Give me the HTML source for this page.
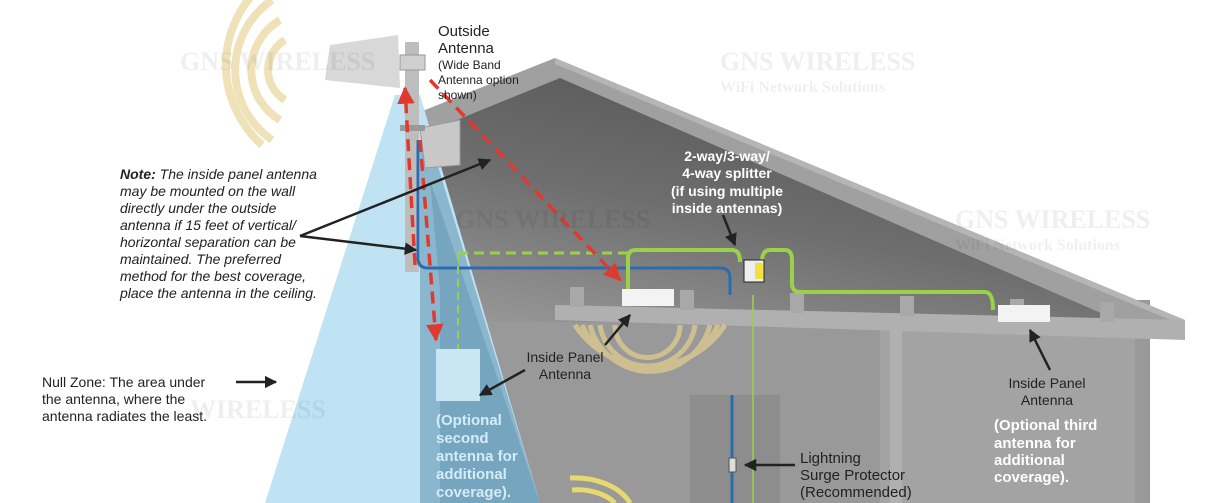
<!DOCTYPE html>
<html><head><meta charset="utf-8"><style>
html,body{margin:0;padding:0;background:#fff;}
svg{display:block;}
text{font-family:"Liberation Sans",sans-serif;}
.wm text{font-family:"Liberation Serif",serif;}
</style></head><body>
<svg width="1228" height="503" viewBox="0 0 1228 503" xmlns="http://www.w3.org/2000/svg">
<defs>
<linearGradient id="attic" x1="0" y1="1" x2="0.6" y2="0">
<stop offset="0" stop-color="#9a9a9a"/><stop offset="0.5" stop-color="#6e6e6e"/><stop offset="1" stop-color="#555"/>
</linearGradient>
<marker id="ah" viewBox="0 0 10 10" refX="9" refY="5" markerWidth="5" markerHeight="5" orient="auto"><path d="M0,0L10,5L0,10z" fill="#222"/></marker>
<marker id="rh" viewBox="0 0 10 10" refX="9" refY="5" markerWidth="5" markerHeight="5" orient="auto"><path d="M0,0L10,5L0,10z" fill="#e03a30"/></marker>
</defs>
<!-- yellow arcs outside -->
<g fill="none" stroke="#f0e2b8" stroke-width="8">
<path d="M285,40 A35,35 0 0 0 285,100"/>
<path d="M280,20 A58,58 0 0 0 280,120"/>
<path d="M272,0 A85,85 0 0 0 272,140"/>
<path d="M262,-15 A115,110 0 0 0 262,145"/>
</g>
<!-- house interior -->
<rect x="420" y="300" width="730" height="203" fill="#999"/>
<rect x="880" y="330" width="255" height="173" fill="#a3a3a3"/>
<rect x="890" y="330" width="12" height="173" fill="#b0b0b0"/>
<rect x="690" y="395" width="90" height="108" fill="#8d8d8d"/>
<!-- attic -->
<polygon points="420,125 560,75 1140,322 420,322" fill="url(#attic)"/>
<!-- roof slab -->
<polygon points="420,112 555,58 1185,320 1185,340 1140,330 560,78 420,135" fill="#a0a0a0"/>
<polygon points="555,58 1185,320 1185,326 555,64" fill="#b5b5b5"/>
<!-- ceiling beam -->
<polygon points="555,305 1185,320 1185,340 555,320" fill="#b0b0b0"/>
<g fill="#a8a8a8"><rect x="570" y="287" width="14" height="20"/><rect x="680" y="290" width="14" height="20"/><rect x="790" y="293" width="14" height="20"/><rect x="900" y="296" width="14" height="20"/><rect x="1010" y="299" width="14" height="20"/><rect x="1100" y="302" width="14" height="20"/></g>
<rect x="420" y="270" width="18" height="233" fill="#a9a9a9"/>
<!-- inside arcs -->
<g fill="none" stroke="#d8c690" stroke-width="5" opacity="0.85">
<path d="M615,325 A32,32 0 0 0 680,325"/><path d="M600,325 A48,48 0 0 0 695,325"/><path d="M590,325 A62,62 0 0 0 710,325"/><path d="M582,325 A75,75 0 0 0 718,325"/><path d="M575,325 A90,92 0 0 0 725,325"/>
</g>
<g fill="none" stroke="#e8d870" stroke-width="5"><path d="M570,478 A60,40 0 0 1 630,503"/><path d="M572,490 A45,30 0 0 1 615,503"/></g>
<!-- beam -->
<polygon points="395,95 420,95 540,503 265,503" fill="#bfe3f3"/>
<polygon points="420,140 420,503 540,503 430,140" fill="#5f93ad" opacity="0.55"/>
<polygon points="430,180 440,290 440,503 540,503" fill="#4f87a5" opacity="0.35"/>
<!-- mast & antenna -->
<rect x="405" y="42" width="14" height="230" fill="#bdbdbd"/>
<polygon points="330,45 398,35 400,88 325,80" fill="#d8d8d8"/>
<rect x="400" y="55" width="25" height="15" fill="#cfcfcf" stroke="#999"/>
<polygon points="420,128 460,120 460,165 425,168" fill="#c8c8c8" stroke="#999"/>
<rect x="400" y="125" width="25" height="6" fill="#999"/>
<!-- cables -->
<path d="M418,140 L418,258 Q418,268 428,268 L720,268 Q730,268 730,278 L730,295" fill="none" stroke="#2d6bb0" stroke-width="3"/>
<path d="M458,253 L630,253" fill="none" stroke="#9ad04a" stroke-width="3" stroke-dasharray="10,6"/>
<path d="M458,253 L458,350" fill="none" stroke="#9ad04a" stroke-width="2" stroke-dasharray="8,5"/>
<path d="M628,290 L628,258 Q628,250 636,250 L732,250 Q740,250 740,262 M762,262 Q762,250 770,250 L785,250 Q792,250 792,260 L792,283 Q792,292 800,292 L985,292 Q993,292 993,310" fill="none" stroke="#9ad04a" stroke-width="4"/>
<path d="M732,395 L732,503" stroke="#2d6bb0" stroke-width="3"/>
<path d="M753,295 L753,503" stroke="#9ad04a" stroke-width="2" opacity="0.8"/>
<rect x="744" y="260" width="20" height="22" fill="#eee" stroke="#222"/><rect x="755" y="263" width="8" height="16" fill="#f0e040"/>
<rect x="729" y="458" width="7" height="14" fill="#ddd" stroke="#555"/>
<!-- panels -->
<rect x="622" y="289" width="52" height="17" fill="#f3f3f3"/>
<rect x="998" y="305" width="52" height="17" fill="#f3f3f3"/>
<rect x="436" y="349" width="44" height="52" fill="#c8e6f3"/>
<!-- red dashed -->
<g stroke="#e03a30" stroke-width="3.5" stroke-dasharray="12,7" fill="none">
<line x1="415" y1="265" x2="405" y2="88" marker-end="url(#rh)"/>
<line x1="420" y1="140" x2="436" y2="340" marker-end="url(#rh)"/>
<line x1="430" y1="80" x2="620" y2="280" marker-end="url(#rh)"/>
</g>
<!-- black arrows -->
<g stroke="#222" stroke-width="2.5" fill="none">
<line x1="300" y1="236" x2="490" y2="160" marker-end="url(#ah)"/>
<line x1="300" y1="236" x2="416" y2="250" marker-end="url(#ah)"/>
<line x1="236" y1="382" x2="276" y2="382" marker-end="url(#ah)"/>
<line x1="525" y1="370" x2="480" y2="395" marker-end="url(#ah)"/>
<line x1="605" y1="345" x2="630" y2="315" marker-end="url(#ah)"/>
<line x1="723" y1="215" x2="735" y2="245" marker-end="url(#ah)"/>
<line x1="1050" y1="370" x2="1030" y2="330" marker-end="url(#ah)"/>
<line x1="795" y1="465" x2="745" y2="465" marker-end="url(#ah)"/>
</g>
<!-- watermarks -->
<g class="wm" fill="#000" opacity="0.06" font-weight="bold">
<text x="720" y="70" font-size="26">GNS WIRELESS</text><text x="720" y="92" font-size="16">WiFi Network Solutions</text>
<text x="955" y="228" font-size="26">GNS WIRELESS</text><text x="955" y="250" font-size="16">WiFi Network Solutions</text>
<text x="455" y="228" font-size="26">GNS WIRELESS</text>
<text x="180" y="70" font-size="26">GNS WIRELESS</text>
<text x="190" y="418" font-size="26">WIRELESS</text>
</g>
<!-- text -->
<g fill="#222">
<text x="438" y="36" font-size="15">Outside</text>
<text x="438" y="53" font-size="15">Antenna</text>
<text font-size="12"><tspan x="438" y="69">(Wide Band</tspan><tspan x="438" y="84">Antenna option</tspan><tspan x="438" y="99">shown)</tspan></text>
<text font-size="14" font-style="italic"><tspan x="120" y="179"><tspan font-weight="bold">Note:</tspan> The inside panel antenna</tspan><tspan x="120" y="196">may be mounted on the wall</tspan><tspan x="120" y="213">directly under the outside</tspan><tspan x="120" y="230">antenna if 15 feet of vertical/</tspan><tspan x="120" y="247">horizontal separation can be</tspan><tspan x="120" y="264">maintained. The preferred</tspan><tspan x="120" y="281">method for the best coverage,</tspan><tspan x="120" y="298">place the antenna in the ceiling.</tspan></text>
<text font-size="14"><tspan x="42" y="387">Null Zone: The area under</tspan><tspan x="42" y="404">the antenna, where the</tspan><tspan x="42" y="421">antenna radiates the least.</tspan></text>
<text font-size="14" text-anchor="middle"><tspan x="565" y="362">Inside Panel</tspan><tspan x="565" y="379">Antenna</tspan></text>
<text font-size="14" text-anchor="middle"><tspan x="1047" y="388">Inside Panel</tspan><tspan x="1047" y="405">Antenna</tspan></text>
<text font-size="15"><tspan x="800" y="463">Lightning</tspan><tspan x="800" y="480">Surge Protector</tspan><tspan x="800" y="497">(Recommended)</tspan></text>
</g>
<text font-size="15" font-weight="bold" fill="#d4ecf8"><tspan x="436" y="425">(Optional</tspan><tspan x="436" y="443">second</tspan><tspan x="436" y="461">antenna for</tspan><tspan x="436" y="479">additional</tspan><tspan x="436" y="497">coverage).</tspan></text>
<text font-size="14" font-weight="bold" fill="#fff" text-anchor="middle"><tspan x="727" y="161">2-way/3-way/</tspan><tspan x="727" y="178">4-way splitter</tspan><tspan x="727" y="196">(if using multiple</tspan><tspan x="727" y="213">inside antennas)</tspan></text>
<text font-size="15" font-weight="bold" fill="#fff"><tspan x="994" y="430">(Optional third</tspan><tspan x="994" y="448">antenna for</tspan><tspan x="994" y="465">additional</tspan><tspan x="994" y="482">coverage).</tspan></text>
</svg>
</body></html>
